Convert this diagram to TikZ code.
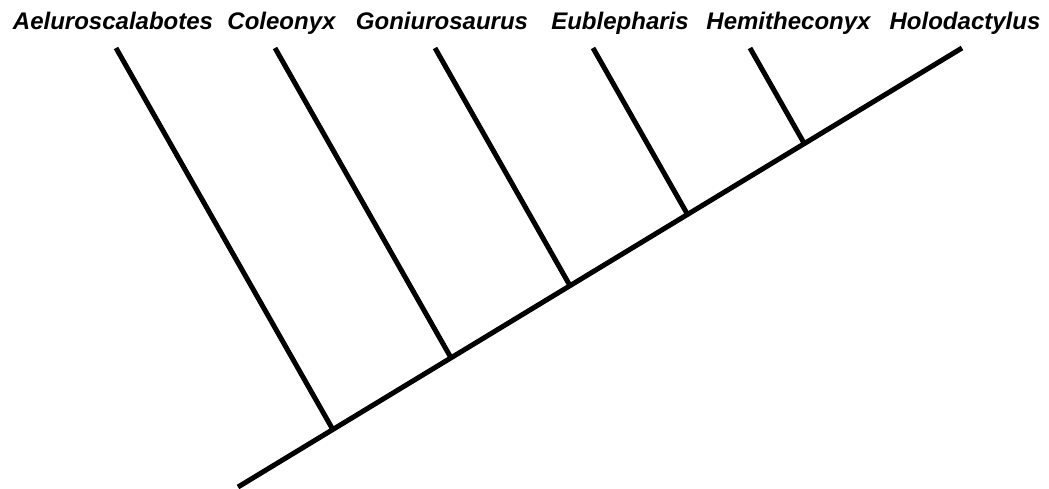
\documentclass[tikz,border=0pt]{standalone}
\usepackage{fontspec}
\setmainfont{Liberation Sans}
\begin{document}
\begin{tikzpicture}[x=1pt,y=-1pt,
  taxon/.style={anchor=base,inner sep=0pt,font=\fontsize{24}{28}\selectfont\bfseries\itshape},
  branch/.style={line width=5pt,line cap=butt,black}]
\useasboundingbox (0,0) rectangle (1049,488);
% labels
\node[taxon] (aelu) at (113,29) {Aeluroscalabotes};
\node[taxon] (cole) at (281.5,29) {Coleonyx};
\node[taxon] (goni) at (442,29) {Goniurosaurus};
\node[taxon] (eubl) at (620,29) {Eublepharis};
\node[taxon] (hemi) at (788.5,29) {Hemitheconyx};
\node[taxon] (holo) at (965,29) {Holodactylus};
% tips
\coordinate (tA) at (116,48);
\coordinate (tC) at (275,48);
\coordinate (tG) at (435,48);
\coordinate (tE) at (593,48);
\coordinate (tH) at (750,48);
\coordinate (tL) at (962,48);
% root and internal nodes
\coordinate (root) at (238,487);
\coordinate (nA) at (332.8,429.5);
\coordinate (nC) at (451,357.8);
\coordinate (nG) at (570,285.7);
\coordinate (nE) at (687.5,214.4);
\coordinate (nH) at (804.3,143.6);
% tree
\draw[branch] (root) -- (tL);
\draw[branch] (nA) -- (tA);
\draw[branch] (nC) -- (tC);
\draw[branch] (nG) -- (tG);
\draw[branch] (nE) -- (tE);
\draw[branch] (nH) -- (tH);
\end{tikzpicture}
\end{document}
